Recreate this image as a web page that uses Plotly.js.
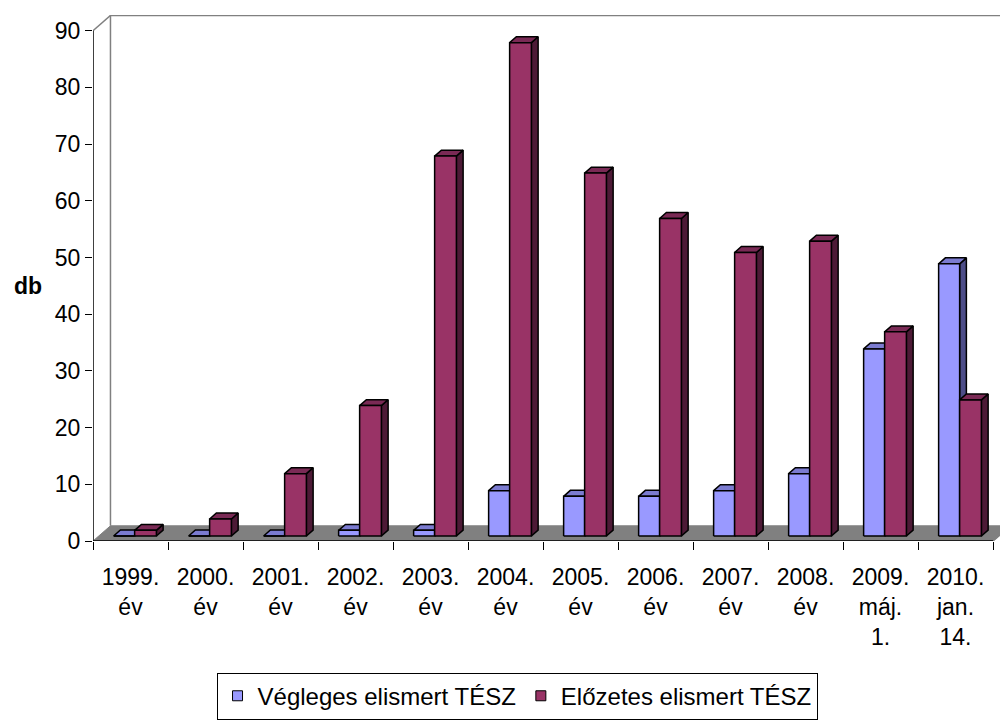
<!DOCTYPE html>
<html>
<head>
<meta charset="utf-8">
<script src="https://cdn.plot.ly/plotly-3.0.1.min.js"></script>
<style>html,body{margin:0;padding:0;background:#fff;}#chart{width:1000px;height:720px;}</style>
</head>
<body>
<div id="chart"></div>
<script>
// ---- data ----
const categories = ['1999.<br>év','2000.<br>év','2001.<br>év','2002.<br>év','2003.<br>év','2004.<br>év',
                    '2005.<br>év','2006.<br>év','2007.<br>év','2008.<br>év','2009.<br>máj.<br>1.','2010.<br>jan.<br>14.'];
const seriesNames = ['Végleges elismert TÉSZ', 'Előzetes elismert TÉSZ'];
const vegleges = [0, 0, 0, 1, 1, 8, 7, 7, 8, 11, 33, 48];
const elozetes = [1, 3, 11, 23, 67, 87, 64, 56, 50, 52, 36, 24];
const yTicks = [0, 10, 20, 30, 40, 50, 60, 70, 80, 90];

// ---- style / geometry constants ----
const FONT = 'Liberation Sans, Arial, sans-serif';
const DX = 0.09, DY = 1.05, B0 = 0.88;      // bar depth offsets (axis units)
const DXW = 0.233, DYW = 2.68;              // wall / floor depth
const n = categories.length;
const xMin = -0.5, xMax = n - 0.5;
const yTop = yTicks[yTicks.length - 1];

function addPoly(obj, pts) {
  pts.forEach(p => { obj.x.push(p[0]); obj.y.push(p[1]); });
  obj.x.push(null); obj.y.push(null);
}
function barFaces(vals, x0, x1) {
  const front = {x: [], y: []}, top = {x: [], y: []}, side = {x: [], y: []};
  vals.forEach((v, i) => {
    const l = i + x0, r = i + x1, b = B0, t = B0 + v;
    addPoly(front, [[l, b], [r, b], [r, t], [l, t], [l, b]]);
    addPoly(top, [[l, t], [r, t], [r + DX, t + DY], [l + DX, t + DY], [l, t]]);
    addPoly(side, [[r, b], [r + DX, b + DY], [r + DX, t + DY], [r, t], [r, b]]);
  });
  return {front, top, side};
}
function polyTrace(d, fill) {
  return {x: d.x, y: d.y, type: 'scatter', mode: 'lines', fill: 'toself', fillcolor: fill,
          line: {color: '#000', width: 1.5}, hoverinfo: 'skip', showlegend: false};
}
function lineTrace(xs, ys, color, w) {
  return {x: xs, y: ys, type: 'scatter', mode: 'lines', line: {color: color, width: w},
          hoverinfo: 'skip', showlegend: false};
}

const traces = [];
// floor
traces.push({x: [xMin, xMax, xMax + DXW, xMin + DXW, xMin], y: [0, 0, DYW, DYW, 0],
  type: 'scatter', mode: 'lines', fill: 'toself', fillcolor: '#808080',
  line: {color: '#808080', width: 1}, hoverinfo: 'skip', showlegend: false});
// back wall edges
traces.push(lineTrace([xMin + DXW, xMin + DXW, xMax + DXW + 1], [DYW, yTop + DYW, yTop + DYW], '#808080', 1.5));
traces.push(lineTrace([xMin, xMin + DXW], [yTop, yTop + DYW], '#808080', 1.5));
traces.push(lineTrace([xMax, xMax + DXW], [0, DYW], '#808080', 1.5));
// front axis lines
traces.push(lineTrace([xMin, xMin], [0, yTop], '#000', 1.5));
traces.push(lineTrace([xMin, xMax], [0, 0], '#000', 1.5));

const blue = barFaces(vegleges, -0.225, 0.055);
const red = barFaces(elozetes, 0.055, 0.345);
traces.push(polyTrace(blue.side, '#4D4D88'));
traces.push(polyTrace(blue.top, '#7B7BD0'));
traces.push(polyTrace(blue.front, '#9999FF'));
traces.push(polyTrace(red.side, '#4D1A36'));
traces.push(polyTrace(red.top, '#7A2A55'));
traces.push(polyTrace(red.front, '#993366'));

// legend entries
[['#9999FF', seriesNames[0]], ['#993366', seriesNames[1]]].forEach(([c, name]) => {
  traces.push({x: [-10], y: [-10], type: 'scatter', mode: 'markers', name: name,
    marker: {symbol: 'square', size: 10, color: c, line: {color: '#000', width: 1}},
    hoverinfo: 'skip', showlegend: true});
});

const minorVals = [];
for (let i = 0; i <= n; i++) minorVals.push(i - 0.5);

const layout = {
  width: 1000, height: 720,
  margin: {l: 93, r: 0, t: 15, b: 177},
  paper_bgcolor: '#fff', plot_bgcolor: '#fff',
  font: {family: FONT, size: 23, color: '#000'},
  showlegend: true,
  xaxis: {
    range: [xMin, xMin + 907 / 75], showgrid: false, zeroline: false, showline: false,
    tickmode: 'array', tickvals: categories.map((c, i) => i), ticktext: categories,
    ticks: '', tickfont: {family: FONT, size: 23, color: '#000'}, ticklabelstandoff: 20,
    minor: {tickmode: 'array', tickvals: minorVals, ticks: 'outside', ticklen: 8, tickcolor: '#000', tickwidth: 1, showgrid: false},
    fixedrange: true
  },
  yaxis: {
    range: [0, 92.76], showgrid: false, zeroline: false, showline: false,
    tickmode: 'array', tickvals: yTicks, ticktext: yTicks.map(String),
    ticks: 'outside', ticklen: 7, tickcolor: '#000', tickwidth: 1,
    tickfont: {family: FONT, size: 23, color: '#000'}, fixedrange: true
  },
  legend: {
    orientation: 'h', x: 0.4675, xanchor: 'center', y: -0.295, yanchor: 'middle',
    bordercolor: '#000', borderwidth: 1, bgcolor: '#fff',
    font: {family: FONT, size: 24, color: '#000'}, itemwidth: 30, tracegroupgap: 0
  },
  annotations: [{
    text: '<b>db</b>', xref: 'paper', yref: 'paper', x: -0.0717, y: 0.485,
    xanchor: 'center', yanchor: 'middle', showarrow: false,
    font: {family: FONT, size: 23, color: '#000'}
  }]
};

Plotly.newPlot('chart', traces, layout, {displayModeBar: false, staticPlot: true});
</script>
</body>
</html>
